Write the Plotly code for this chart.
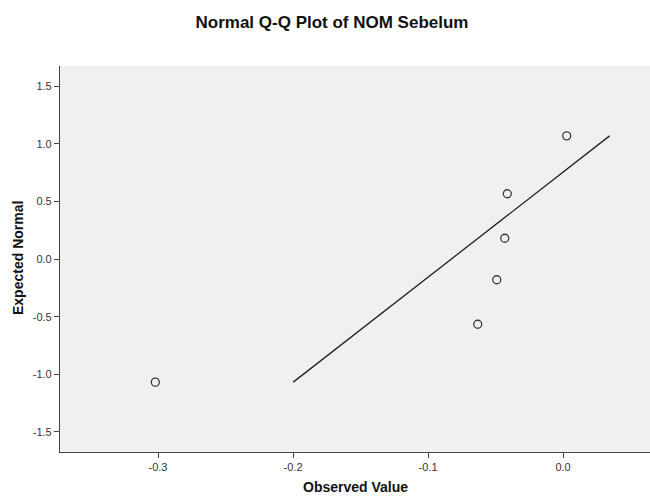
import numpy as np
import plotly.graph_objects as go

# Data
observed = [-0.302, -0.0632, -0.0491, -0.0432, -0.0413, 0.0027]
expected_normal = [-1.068, -0.566, -0.180, 0.180, 0.566, 1.068]
x_ticks = [-0.3, -0.2, -0.1, 0.0]
x_tick_labels = ["-0.3", "-0.2", "-0.1", "0.0"]
y_ticks = [-1.5, -1.0, -0.5, 0.0, 0.5, 1.0, 1.5]
y_tick_labels = ["-1.5", "-1.0", "-0.5", "0.0", "0.5", "1.0", "1.5"]

# Reference line: y = (x - mean) / sd, drawn over the range of expected values
obs = np.array(observed)
mean = obs.mean()
sd = obs.std(ddof=1)
line_y = [min(expected_normal), max(expected_normal)]
line_x = [mean + v * sd for v in line_y]

FONT = "Liberation Sans, Arial, sans-serif"

fig = go.Figure()
fig.add_trace(go.Scatter(
    x=line_x, y=line_y, mode="lines",
    line=dict(color="#222222", width=1.3),
    hoverinfo="skip", showlegend=False,
))
fig.add_trace(go.Scatter(
    x=observed, y=expected_normal, mode="markers",
    marker=dict(symbol="circle-open", size=8, color="#3a3a3a",
                line=dict(width=1.3, color="#3a3a3a")),
    showlegend=False,
))

axis_font = dict(family=FONT, size=11, color="#333333")
common_axis = dict(
    showgrid=False, zeroline=False, automargin=False,
    showline=True, linecolor="#444444", linewidth=1.2,
    ticks="outside", ticklen=5, tickwidth=1.2, tickcolor="#444444",
    tickfont=axis_font,
)

plot_w = 650 - 60
plot_h = 497 - 66 - 45

fig.update_layout(
    width=650, height=497,
    margin=dict(l=60, r=0, t=66, b=45, autoexpand=False),
    paper_bgcolor="white",
    plot_bgcolor="#F0F0F0",
    title=dict(
        text="<b>Normal Q-Q Plot of NOM Sebelum</b>",
        x=332 / 650, xanchor="center", xref="container",
        y=1 - 22 / 497, yanchor="middle", yref="container",
        font=dict(family=FONT, size=17, color="#111111"),
    ),
    xaxis=dict(range=[-0.3726, 0.0644], tickvals=x_ticks, ticktext=x_tick_labels, **common_axis),
    yaxis=dict(range=[-1.674, 1.674], tickvals=y_ticks, ticktext=y_tick_labels, **common_axis),
    annotations=[
        dict(text="<b>Observed Value</b>", xref="paper", yref="paper",
             x=(355 - 60) / plot_w, y=(452 - 487) / plot_h, xanchor="center", yanchor="middle",
             showarrow=False, font=dict(family=FONT, size=14, color="#111111")),
        dict(text="<b>Expected Normal</b>", xref="paper", yref="paper",
             x=(18 - 60) / plot_w, y=(452 - 258) / plot_h, xanchor="center", yanchor="middle",
             textangle=-90, showarrow=False,
             font=dict(family=FONT, size=14, color="#111111")),
    ],
)

fig.write_html(
    "out.html",
    config={"displayModeBar": False},
    post_script=(
        "document.body.style.margin='0';"
        "document.body.style.overflow='hidden';"
        "document.documentElement.style.overflow='hidden';"
    ),
)
